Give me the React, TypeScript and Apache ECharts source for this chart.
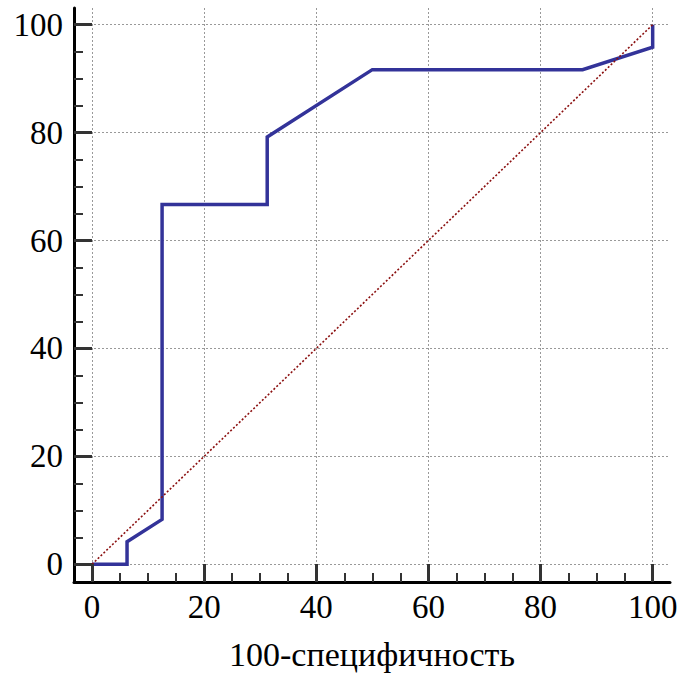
import React, { useEffect, useRef } from "react";
import * as echarts from "echarts";

// ROC curve points (x = 100-specificity, y = sensitivity)
const rocX = [0, 6.25, 6.25, 12.5, 12.5, 31.25, 31.25, 50, 87.5, 100, 100];
const rocY = [0, 0, 4.17, 8.33, 66.67, 66.67, 79.17, 91.67, 91.67, 95.83, 100];
// Reference diagonal
const diagX = [0, 100];
const diagY = [0, 100];
// Ticks
const majorTicks = [0, 20, 40, 60, 80, 100];
const minorTicks = [5, 10, 15, 25, 30, 35, 45, 50, 55, 65, 70, 75, 85, 90, 95];
const xTitle = "100-специфичность";

const X_MIN = -3.21;
const X_MAX = 103.09;
const Y_MIN = -3.28;
const Y_MAX = 103.09;

const FONT = "Liberation Serif";

export default function App() {
  const ref = useRef<HTMLDivElement>(null);

  useEffect(() => {
    if (!ref.current) return;
    const chart = echarts.init(ref.current, null, { renderer: "svg" });

    const majorAxis = (dim: "x" | "y") => ({
      type: "value",
      gridIndex: 0,
      position: dim === "x" ? "bottom" : "left",
      min: dim === "x" ? X_MIN : Y_MIN,
      max: dim === "x" ? X_MAX : Y_MAX,
      z: 3,
      axisLine: { show: true, onZero: false, lineStyle: { color: "#000", width: 3 } },
      axisTick: {
        show: true,
        inside: true,
        length: 18,
        customValues: majorTicks,
        lineStyle: { color: "#333", width: 3 },
      },
      axisLabel: {
        show: true,
        customValues: majorTicks,
        margin: dim === "x" ? 8 : 11,
        color: "#000",
        fontFamily: FONT,
        fontSize: 33,
      },
      splitLine: { show: false },
      ...(dim === "x"
        ? {
            name: xTitle,
            nameLocation: "middle",
            nameGap: 55,
            nameTextStyle: { color: "#000", fontFamily: FONT, fontSize: 34 },
          }
        : {}),
    });

    const minorAxis = (dim: "x" | "y") => ({
      type: "value",
      gridIndex: 0,
      position: dim === "x" ? "bottom" : "left",
      offset: 0,
      min: dim === "x" ? X_MIN : Y_MIN,
      max: dim === "x" ? X_MAX : Y_MAX,
      z: 3,
      axisLine: { show: false, onZero: false },
      axisTick: {
        show: true,
        inside: true,
        length: 9,
        customValues: minorTicks,
        lineStyle: { color: "#333", width: 2 },
      },
      axisLabel: { show: false },
      splitLine: { show: false },
    });

    const gridLineStyle = { color: "#999", width: 1, type: [2, 2] };

    chart.setOption({
      animation: false,
      backgroundColor: "#fff",
      grid: { left: 74, right: 13, top: 8, bottom: 99, containLabel: false },
      xAxis: [majorAxis("x"), minorAxis("x")],
      yAxis: [majorAxis("y"), minorAxis("y")],
      series: [
        {
          type: "line",
          xAxisIndex: 0,
          yAxisIndex: 0,
          data: [],
          silent: true,
          markLine: {
            silent: true,
            symbol: "none",
            z: 1,
            label: { show: false },
            lineStyle: gridLineStyle,
            data: [
              ...majorTicks.map((v) => ({ xAxis: v })),
              ...majorTicks.map((v) => ({ yAxis: v })),
            ],
          },
        },
        {
          type: "line",
          xAxisIndex: 0,
          yAxisIndex: 0,
          z: 2,
          symbol: "none",
          data: rocX.map((x, i) => [x, rocY[i]]),
          lineStyle: { color: "#333399", width: 3.5, join: "miter" },
          itemStyle: { color: "#333399" },
        },
        {
          type: "line",
          xAxisIndex: 0,
          yAxisIndex: 0,
          z: 2.5,
          symbol: "none",
          data: diagX.map((x, i) => [x, diagY[i]]),
          lineStyle: { color: "#8b1010", width: 1.6, type: [2, 2] },
          itemStyle: { color: "#8b1010" },
        },
      ],
    });

    return () => chart.dispose();
  }, []);

  return (
    <div
      ref={ref}
      style={{ position: "fixed", left: 0, top: 0, width: 683, height: 681, background: "#fff" }}
    />
  );
}
